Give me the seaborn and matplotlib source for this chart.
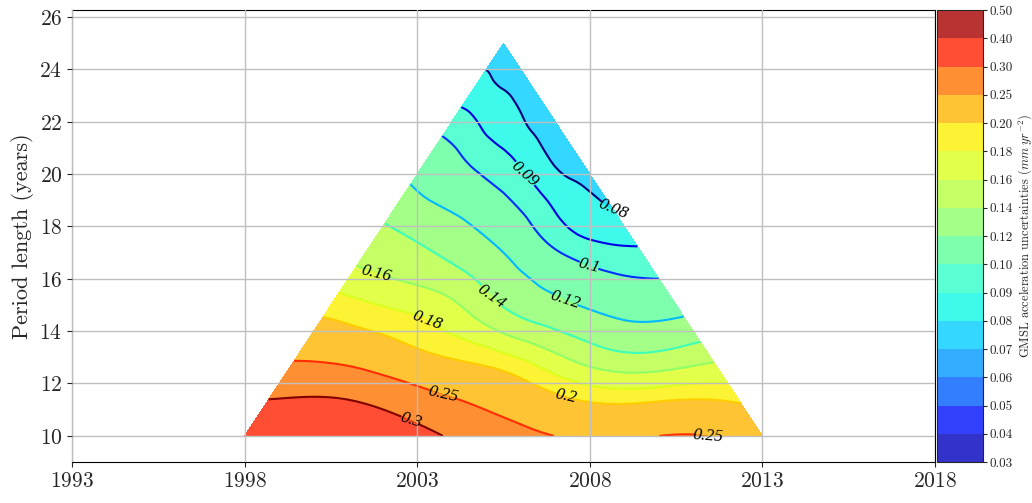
import numpy as np
import matplotlib
matplotlib.use("Agg")
import matplotlib.pyplot as plt
import matplotlib.tri as mtri
from matplotlib.colors import LogNorm, BoundaryNorm, ListedColormap
import seaborn as sns

# periods run from 1993 to 2018; x = central year, y = period length
first_year = 1993
last_year = 2018

# period lengths (years) of the sampled rows
lengths = [10, 11.5, 13, 14.5, 16, 17.5, 19, 20.5, 22, 23.5]

# GMSL acceleration uncertainty (mm/yr^2) read along each row,
# from the earliest-start (left edge) to the latest-start (right edge) period
unc_rows = [
    [0.340, 0.338, 0.312, 0.270, 0.243, 0.252, 0.232],
    [0.297, 0.296, 0.262, 0.227, 0.195, 0.193, 0.193],
    [0.245, 0.231, 0.203, 0.185, 0.157, 0.144, 0.155],
    [0.201, 0.188, 0.174, 0.147, 0.130, 0.119, 0.121],
    [0.169, 0.159, 0.148, 0.129, 0.113, 0.103, 0.100],
    [0.147, 0.139, 0.128, 0.115, 0.099, 0.0900, 0.088],
    [0.128, 0.119, 0.112, 0.102, 0.0925, 0.084, 0.079],
    [0.110, 0.104, 0.097, 0.0925, 0.086, 0.079, 0.077],
    [0.095, 0.092, 0.088, 0.085, 0.081, 0.078, 0.076],
    [0.083, 0.082, 0.080, 0.079, 0.078, 0.077, 0.076],
]
# the single full-length period 1993-2018
apex_length = 25
apex_value = 0.076

fill_levels = [0.03, 0.04, 0.05, 0.06, 0.07, 0.08, 0.09, 0.10, 0.12, 0.14,
               0.16, 0.18, 0.20, 0.25, 0.30, 0.40, 0.50]
line_levels = [0.08, 0.09, 0.1, 0.12, 0.14, 0.16, 0.18, 0.2, 0.25, 0.3]

# where the contour labels sit (central year, length)
label_spots = [(2008.8, 18.55), (2006.1, 19.97), (2008.0, 16.7), (2007.3, 15.2),
               (2005.2, 15.46), (2001.84, 16.34), (2003.28, 14.35), (2007.28, 11.37),
               (2003.75, 11.45), (2011.5, 10.15), (2002.8, 10.53)]

# build the scattered table
xs, ys, zs = [], [], []
for L, row in zip(lengths, unc_rows):
    centres = np.linspace(first_year + L / 2, last_year - L / 2, len(row))
    xs.extend(centres)
    ys.extend([L] * len(row))
    zs.extend(row)
xs.append((first_year + last_year) / 2)
ys.append(apex_length)
zs.append(apex_value)
xs, ys, zs = np.array(xs), np.array(ys), np.array(zs)

sns.set_style("ticks")
plt.rcParams["font.family"] = "serif"
plt.rcParams["font.serif"] = ["cmr10"]
plt.rcParams["mathtext.fontset"] = "cm"
plt.rcParams["axes.unicode_minus"] = False
plt.rcParams["axes.formatter.use_mathtext"] = True

jet = matplotlib.colormaps["jet"]
# one jet colour per band, taken on a log scale
mids = [(a + b) / 2 for a, b in zip(fill_levels[:-1], fill_levels[1:])]
band_cmap = ListedColormap(jet(LogNorm(fill_levels[0], fill_levels[-1])(mids)))
band_norm = BoundaryNorm(fill_levels, len(mids))

fig = plt.figure(figsize=(10.32, 5.03), dpi=100)
ax = fig.add_axes([0.0698, 0.0815, 0.8362, 0.8986])
cax = fig.add_axes([0.908, 0.0815, 0.0445, 0.8986])

tri = mtri.Triangulation(xs, ys)
refiner = mtri.UniformTriRefiner(tri)
tri_f, z_f = refiner.refine_field(zs, subdiv=3)

cf = ax.tricontourf(tri_f, z_f, levels=fill_levels, cmap=band_cmap,
                    norm=band_norm, alpha=0.8)
cs = ax.tricontour(tri_f, z_f, levels=line_levels, cmap=jet,
                   norm=LogNorm(line_levels[0], line_levels[-1]), linewidths=1.5)
ax.clabel(cs, line_levels, manual=label_spots, inline=True, fmt="%g",
          colors="k", fontsize=12.5)
for t in cs.labelTexts:
    t.set_family("Liberation Serif")
    t.set_style("italic")

ax.set_xlim(first_year, last_year)
ax.set_ylim(9, 26.27)
ax.set_xticks(range(first_year, last_year + 1, 5))
ax.set_yticks(range(10, 27, 2))
ax.grid(True, color="0.75", lw=1)
ax.set_axisbelow(False)
for sp in ax.spines.values():
    sp.set_visible(True)
    sp.set_color("k")
ax.tick_params(labelsize=15.5)
ax.set_ylabel("Period length (years)", fontsize=16)

cb = fig.colorbar(cf, cax=cax, ticks=fill_levels, format="%.2f")
cb.ax.tick_params(labelsize=9.5, length=3, pad=2)
cb.set_label(r"GMSL acceleration uncertainties ($mm\ yr^{-2}$)", fontsize=9, labelpad=2)

fig.savefig("out.png", dpi=100)
